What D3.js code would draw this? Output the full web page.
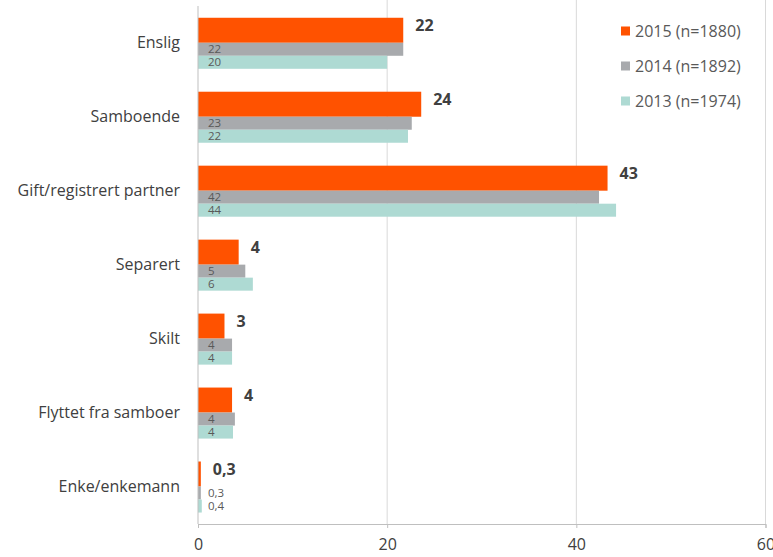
<!DOCTYPE html>
<html>
<head>
<meta charset="utf-8">
<script src="https://cdn.jsdelivr.net/npm/d3@7"></script>
<style>
  body { margin: 0; background: #fff; }
  svg { display: block; font-family: "Open Sans", sans-serif; }
</style>
</head>
<body>
<svg id="main" width="773" height="557"></svg>
<script>
var categories = ["Enslig", "Samboende", "Gift/registrert partner", "Separert", "Skilt", "Flyttet fra samboer", "Enke/enkemann"];
var v2015 = [21.7, 23.6, 43.3, 4.3, 2.8, 3.6, 0.3];
var v2014 = [21.7, 22.6, 42.4, 5.0, 3.6, 3.9, 0.3];
var v2013 = [20.0, 22.2, 44.2, 5.8, 3.6, 3.7, 0.4];
var seriesNames = ["2015 (n=1880)", "2014 (n=1892)", "2013 (n=1974)"];
var colors = ["#ff5200", "#a8aaad", "#aedad3"];
var xTicks = [0, 20, 40, 60];

var svg = d3.select("#main");
var font = "'Open Sans', sans-serif";

var x = d3.scaleLinear().domain([0, 60]).range([198, 765.5]);
var y = d3.scaleBand().domain(categories).range([6.3, 524]).paddingInner(0.31).paddingOuter(0.155);

// 2015 bar is twice as thick as the other two
var sub = [[0, 0.49], [0.49, 0.745], [0.745, 1]];

function fmt(v) {
  return v < 1 ? d3.format(".1f")(v).replace(".", ",") : String(Math.round(v));
}

// grid
svg.append("g").selectAll("line").data(xTicks.slice(1)).enter().append("line")
  .attr("x1", function(d) { return x(d); }).attr("x2", function(d) { return x(d); })
  .attr("y1", 0).attr("y2", 524)
  .attr("stroke", "#d9d9d9").attr("stroke-width", 1);

// bars
var series = [v2015, v2014, v2013];
series.forEach(function(vals, s) {
  svg.append("g").selectAll("rect").data(vals).enter().append("rect")
    .attr("x", x(0))
    .attr("y", function(d, i) { return y(categories[i]) + sub[s][0] * y.bandwidth(); })
    .attr("width", function(d) { return x(d) - x(0); })
    .attr("height", (sub[s][1] - sub[s][0]) * y.bandwidth())
    .attr("fill", colors[s]);
});

// bold labels for 2015
svg.append("g").selectAll("text").data(v2015).enter().append("text")
  .attr("x", function(d) { return x(d) + 12; })
  .attr("y", function(d, i) { return y(categories[i]) + 13; })
  .attr("font-size", 16).attr("font-weight", "bold").attr("fill", "#404040")
  .text(fmt);

// small labels for 2014 / 2013 near the base
[v2014, v2013].forEach(function(vals, k) {
  var s = k + 1;
  svg.append("g").selectAll("text").data(vals).enter().append("text")
    .attr("x", x(0) + 10)
    .attr("y", function(d, i) { return y(categories[i]) + (sub[s][0] + sub[s][1]) / 2 * y.bandwidth(); })
    .attr("dy", "0.36em")
    .attr("font-size", 11.5).attr("fill", "#595959")
    .text(fmt);
});

// x axis
var xAxis = svg.append("g").attr("transform", "translate(0,524)")
  .call(d3.axisBottom(x).tickValues(xTicks).tickSize(4).tickPadding(11).tickFormat(d3.format("d")));
xAxis.select(".domain").attr("stroke", "#bfbfbf");
xAxis.selectAll(".tick line").attr("stroke", "#bfbfbf");
xAxis.selectAll("text").attr("font-size", 16).attr("fill", "#404040").attr("font-family", font);

// y axis
var yAxis = svg.append("g").attr("transform", "translate(" + x(0) + ",0)")
  .call(d3.axisLeft(y).tickSize(0).tickPadding(18));
yAxis.select(".domain").attr("stroke", "#bfbfbf").attr("d", "M0,6V524");
yAxis.selectAll("text").attr("font-size", 16).attr("fill", "#404040").attr("font-family", font);

// legend
var legend = svg.append("g").selectAll("g").data(seriesNames).enter().append("g")
  .attr("transform", function(d, i) { return "translate(621," + (31 + i * 35) + ")"; });
legend.append("rect").attr("x", 0).attr("y", -4.5).attr("width", 9).attr("height", 9)
  .attr("fill", function(d, i) { return colors[i]; });
legend.append("text").attr("x", 14).attr("dy", "0.36em")
  .attr("font-size", 16).attr("fill", "#595959").text(function(d) { return d; });
</script>
</body>
</html>
